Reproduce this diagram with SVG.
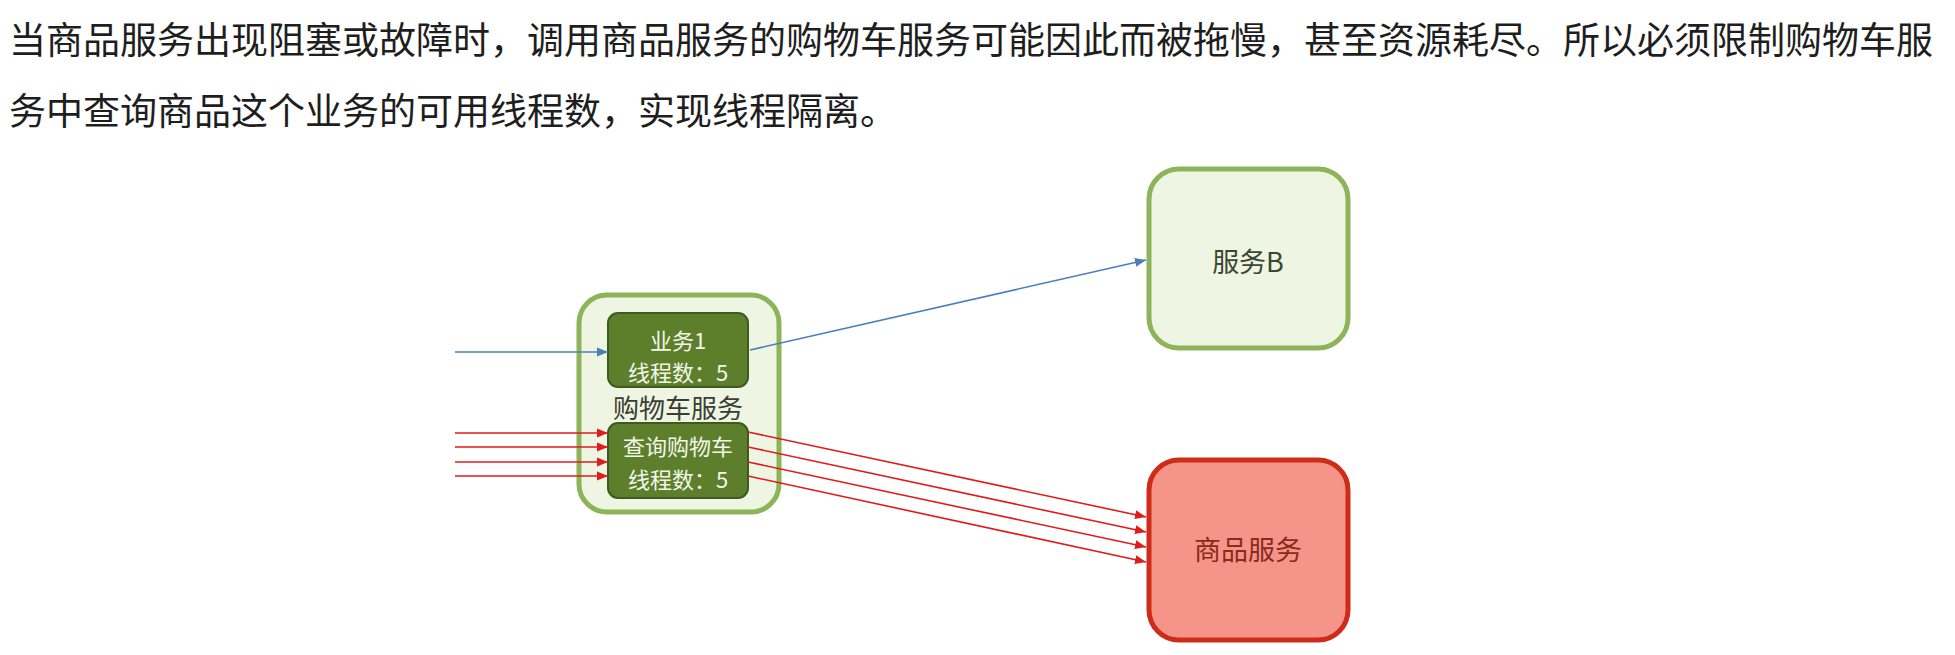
<svg xmlns="http://www.w3.org/2000/svg" width="1955" height="655" viewBox="0 0 1955 655">
<style>
text{font-family:"Noto Sans CJK SC","Noto Sans",sans-serif;dominant-baseline:central}
.para{font-size:37px;fill:#1e1e1e}
.outer{fill:#eef5e2;stroke:#8eb45a;stroke-width:5}
.inner{fill:#5d7f2c;stroke:#3e5a1c;stroke-width:2}
.itxt{font-size:22px;fill:#f2f6ea;text-anchor:middle}
.svc{font-size:27px;text-anchor:middle}
.blue{stroke:#4a7ebb;stroke-width:1.6;fill:none}
.red{stroke:#e01b1b;stroke-width:1.6;fill:none}
</style>
<defs>
<marker id="ab" markerUnits="userSpaceOnUse" markerWidth="12" markerHeight="10" refX="11" refY="5" orient="auto"><path d="M0,0.5 L11,5 L0,9.5 z" fill="#4a7ebb"/></marker>
<marker id="ar" markerUnits="userSpaceOnUse" markerWidth="12" markerHeight="10" refX="11" refY="5" orient="auto"><path d="M0,0.5 L11,5 L0,9.5 z" fill="#e01b1b"/></marker>
</defs>
<rect width="1955" height="655" fill="#ffffff"/>
<g id="caption">
<text class="para" x="9" y="38">当商品服务出现阻塞或故障时，调用商品服务的购物车服务可能因此而被拖慢，甚至资源耗尽。所以必须限制购物车服</text>
<text class="para" x="9" y="109">务中查询商品这个业务的可用线程数，实现线程隔离。</text>
</g>
<g id="cart-service">
<rect class="outer" x="579" y="295" width="200" height="217" rx="28"/>
<text class="svc" x="678" y="406" fill="#3a3d34" style="font-size:26px">购物车服务</text>
</g>
<g id="business1">
<rect class="inner" x="608" y="313" width="140" height="74" rx="10"/>
<text class="itxt" x="678" y="339">业务1</text>
<text class="itxt" x="678" y="371">线程数：5</text>
</g>
<g id="query-cart">
<rect class="inner" x="608" y="423" width="140" height="75" rx="10"/>
<text class="itxt" x="678" y="445">查询购物车</text>
<text class="itxt" x="678" y="478">线程数：5</text>
</g>
<g id="service-b">
<rect x="1149" y="169" width="199" height="179" rx="30" fill="#eef5e2" stroke="#8eb45a" stroke-width="5"/>
<text class="svc" x="1248" y="260" fill="#3c4632">服务B</text>
</g>
<g id="product-service">
<rect x="1149" y="460" width="199" height="180" rx="30" fill="#f5958a" stroke="#cf2b19" stroke-width="5"/>
<text class="svc" x="1248" y="548" fill="#8a2a1c">商品服务</text>
</g>
<g id="connectors">
<line class="blue" x1="455" y1="352" x2="608" y2="352" marker-end="url(#ab)"/>
<line class="blue" x1="750" y1="350" x2="1146" y2="260" marker-end="url(#ab)"/>
<line class="red" x1="455" y1="433" x2="608" y2="433" marker-end="url(#ar)"/>
<line class="red" x1="455" y1="447" x2="608" y2="447" marker-end="url(#ar)"/>
<line class="red" x1="455" y1="462" x2="608" y2="462" marker-end="url(#ar)"/>
<line class="red" x1="455" y1="476" x2="608" y2="476" marker-end="url(#ar)"/>
<line class="red" x1="748" y1="432" x2="1146" y2="517" marker-end="url(#ar)"/>
<line class="red" x1="748" y1="447" x2="1146" y2="532" marker-end="url(#ar)"/>
<line class="red" x1="748" y1="462" x2="1146" y2="547" marker-end="url(#ar)"/>
<line class="red" x1="748" y1="476" x2="1146" y2="562" marker-end="url(#ar)"/>
</g>
</svg>
